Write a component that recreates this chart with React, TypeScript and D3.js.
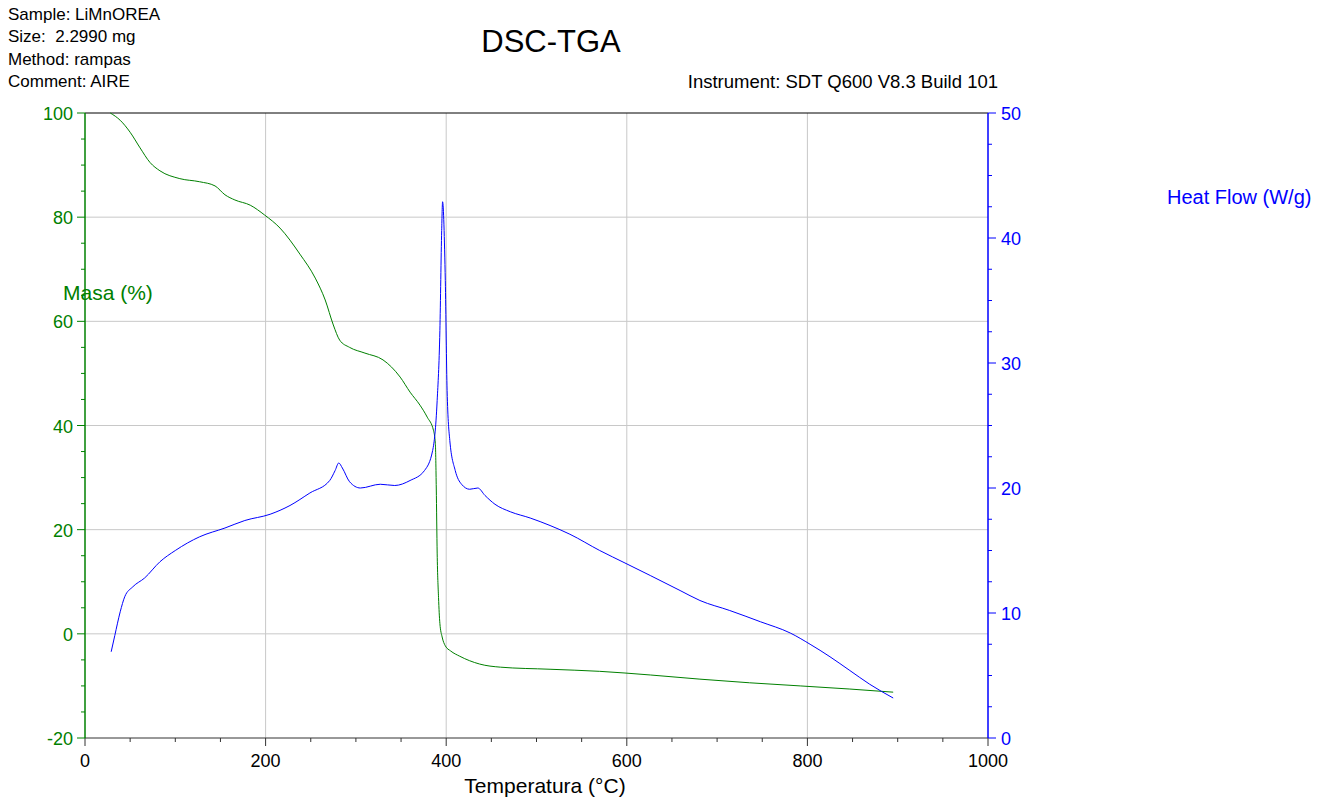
import * as d3 from 'd3';

// temperatures (°C) and mass (%)
const massTemp = [28, 39, 50, 61, 72, 83, 105, 127, 144, 155, 166, 183, 199, 216, 238, 255, 266, 275, 282, 293, 310, 330, 349, 360, 371, 379, 386, 388, 389, 390, 391.5, 393, 395.5, 399, 405, 415, 437, 460, 515, 570, 626, 681, 736, 792, 847, 895];
const massVal = [100, 98.6, 96.3, 93.3, 90.5, 88.9, 87.4, 86.8, 86.0, 84.3, 83.3, 82.3, 80.4, 77.9, 72.9, 68.3, 64.1, 59.3, 56.4, 55.0, 53.9, 52.6, 49.3, 46.4, 43.9, 41.6, 39.0, 36.5, 28, 15.5, 7, 2, -0.6, -2.3, -3.3, -4.3, -5.8, -6.4, -6.8, -7.2, -7.9, -8.7, -9.4, -10.0, -10.6, -11.2];

// temperatures (°C) and heat flow (W/g)
const heatTemp = [29, 33, 39, 44, 53, 66, 83, 100, 127, 155, 177, 205, 227, 249, 271, 277, 281, 285, 293, 305, 327, 343, 360, 376, 385, 390, 393, 395, 396, 399, 401, 404, 410, 417, 426, 435, 443, 454, 471, 493, 515, 537, 570, 598, 626, 659, 681, 714, 748, 781, 803, 825, 847, 869, 895];
const heatVal = [6.9, 8.2, 10.1, 11.3, 12.1, 12.8, 14.1, 15.0, 16.1, 16.8, 17.4, 17.9, 18.6, 19.6, 20.6, 21.4, 22.0, 21.6, 20.5, 20.0, 20.3, 20.2, 20.6, 21.4, 23.0, 27.0, 32.6, 40.6, 42.9, 36.6, 27.8, 23.8, 21.4, 20.3, 19.9, 20.0, 19.4, 18.7, 18.1, 17.6, 17.0, 16.3, 15.0, 14.0, 13.0, 11.8, 11.0, 10.2, 9.3, 8.4, 7.5, 6.5, 5.4, 4.3, 3.2];

const xTicks = [0, 200, 400, 600, 800, 1000];
const massTicks = [-20, 0, 20, 40, 60, 80, 100];
const heatTicks = [0, 10, 20, 30, 40, 50];

const infoLines = ['Sample: LiMnOREA', 'Size:  2.2990 mg', 'Method: rampas', 'Comment: AIRE'];

const GREEN = '#008000';
const BLUE = '#0000ff';
const FONT = '"Liberation Sans", Arial, sans-serif';

export default function App() {
  const left = 85, right = 988, top = 113, bottom = 738;

  const x = d3.scaleLinear().domain([0, 1000]).range([left, right]);
  const yM = d3.scaleLinear().domain([-20, 100]).range([bottom, top]);
  const yH = d3.scaleLinear().domain([0, 50]).range([bottom, top]);

  const massLine = d3.line<number>()
    .x((d, i) => x(massTemp[i]))
    .y(d => yM(d))
    .curve(d3.curveMonotoneX);
  const heatLine = d3.line<number>()
    .x((d, i) => x(heatTemp[i]))
    .y(d => yH(d))
    .curve(d3.curveMonotoneX);

  const xMinor = d3.range(0, 1001, 50);
  const mMinor = d3.range(-20, 101, 5);
  const hMinor = d3.range(0, 50.1, 2.5);

  return (
    <svg width={1323} height={798} style={{ position: 'absolute', left: 0, top: 0, background: '#fff' }} fontFamily={FONT}>
      {infoLines.map((t, i) => (
        <text key={t} x={8} y={20 + i * 22.3} fontSize={17} style={{ whiteSpace: 'pre' }}>{t}</text>
      ))}
      <text x={551} y={52} fontSize={31} textAnchor="middle">DSC-TGA</text>
      <text x={998} y={88} fontSize={18.5} textAnchor="end">Instrument: SDT Q600 V8.3 Build 101</text>

      {/* grid */}
      {xTicks.filter(t => t > 0 && t < 1000).map(t => (
        <line key={'gx' + t} x1={x(t)} x2={x(t)} y1={top} y2={bottom} stroke="#c8c8c8" />
      ))}
      {massTicks.filter(t => t > -20 && t < 100).map(t => (
        <line key={'gy' + t} x1={left} x2={right} y1={yM(t)} y2={yM(t)} stroke="#c8c8c8" />
      ))}

      {/* frame top */}
      <line x1={left} x2={right} y1={top} y2={top} stroke="#000" />

      {/* bottom axis */}
      <line x1={left} x2={right} y1={bottom} y2={bottom} stroke="#333" />
      {xMinor.map(t => (
        <line key={'xm' + t} x1={x(t)} x2={x(t)} y1={bottom} y2={bottom + (t % 200 === 0 ? 8 : 4)} stroke="#333" />
      ))}
      {xTicks.map(t => (
        <text key={'xt' + t} x={x(t)} y={767} fontSize={18} textAnchor="middle">{t}</text>
      ))}
      <text x={545} y={793} fontSize={21} textAnchor="middle">Temperatura (°C)</text>

      {/* left axis */}
      <line x1={left} x2={left} y1={top} y2={bottom} stroke={GREEN} strokeWidth={1.5} />
      {mMinor.map(t => (
        <line key={'mm' + t} x1={left - (t % 20 === 0 ? 8 : 4)} x2={left} y1={yM(t)} y2={yM(t)} stroke={GREEN} />
      ))}
      {massTicks.map(t => (
        <text key={'mt' + t} x={73} y={yM(t) + 7} fontSize={18} textAnchor="end" fill={GREEN}>{t}</text>
      ))}
      <text x={63} y={300} fontSize={21} fill={GREEN}>Masa (%)</text>

      {/* right axis */}
      <line x1={right} x2={right} y1={top} y2={bottom} stroke={BLUE} strokeWidth={1.5} />
      {hMinor.map(t => (
        <line key={'hm' + t} x1={right} x2={right + (t % 10 === 0 ? 8 : 4)} y1={yH(t)} y2={yH(t)} stroke={BLUE} />
      ))}
      {heatTicks.map(t => (
        <text key={'ht' + t} x={1001} y={yH(t) + 7} fontSize={18} fill={BLUE}>{t}</text>
      ))}
      <text x={1167} y={204} fontSize={20} fill={BLUE}>Heat Flow (W/g)</text>

      {/* curves */}
      <path d={massLine(massVal) ?? ''} fill="none" stroke={GREEN} strokeWidth={1} />
      <path d={heatLine(heatVal) ?? ''} fill="none" stroke={BLUE} strokeWidth={1} />
    </svg>
  );
}
